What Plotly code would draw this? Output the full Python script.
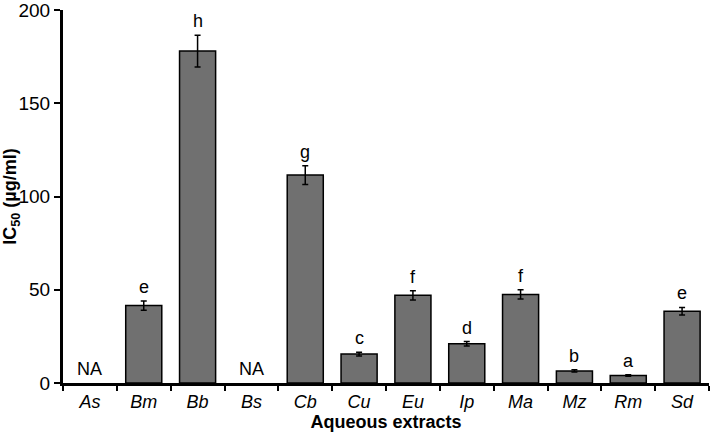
import plotly.graph_objects as go

categories = ["As", "Bm", "Bb", "Bs", "Cb", "Cu", "Eu", "Ip", "Ma", "Mz", "Rm", "Sd"]
ic50 = [None, 41.5, 178, None, 111.5, 15.5, 47, 21, 47.5, 6.5, 4, 38.5]
errors = [None, 2.5, 8.5, None, 5, 1, 2.5, 1.2, 2.5, 0.6, 0.4, 2]
letters = ["NA", "e", "h", "NA", "g", "c", "f", "d", "f", "b", "a", "e"]

font = "Liberation Sans, Arial, sans-serif"

fig = go.Figure()
fig.add_trace(go.Bar(
    x=categories,
    y=ic50,
    width=0.67,
    marker=dict(color="#707070", line=dict(color="black", width=1.5)),
    error_y=dict(type="data", array=[e if e is not None else 0 for e in errors],
                 color="black", thickness=1.5, width=3,
                 visible=True),
    showlegend=False,
))

for c, v, e, t in zip(categories, ic50, errors, letters):
    ytop = (v or 0) + (e or 0)
    fig.add_annotation(x=c, y=ytop, text=t, showarrow=False, yanchor="bottom",
                       yshift=2, font=dict(family=font, size=18, color="black"))

fig.update_layout(
    width=714, height=436,
    margin=dict(l=63, r=5, t=10, b=53),
    plot_bgcolor="white", paper_bgcolor="white",
    font=dict(family=font, size=18, color="black"),
)
fig.update_xaxes(
    tickson="boundaries", ticks="outside", ticklen=5, tickwidth=2, tickcolor="black",
    showline=True, linecolor="black", linewidth=3,
    tickfont=dict(family=font, size=18, style="italic"),
    title=dict(text="<b>Aqueous extracts</b>", font=dict(family=font, size=18), standoff=0),
    range=[-0.5, 11.5], automargin=False, ticklabeloverflow="allow",
)
fig.update_yaxes(
    range=[0, 200], tickvals=[0, 50, 100, 150, 200],
    ticks="outside", ticklen=6, tickwidth=2, tickcolor="black",
    showline=True, linecolor="black", linewidth=3, showgrid=False, zeroline=False,
    tickfont=dict(family=font, size=19),
    title=dict(text="<b>IC<sub>50</sub> (µg/ml)</b>", font=dict(family=font, size=18), standoff=4),
    automargin=False, ticklabeloverflow="allow",
)

fig.write_html("out.html", config={"displayModeBar": False},
               post_script="document.body.style.margin='0';")
